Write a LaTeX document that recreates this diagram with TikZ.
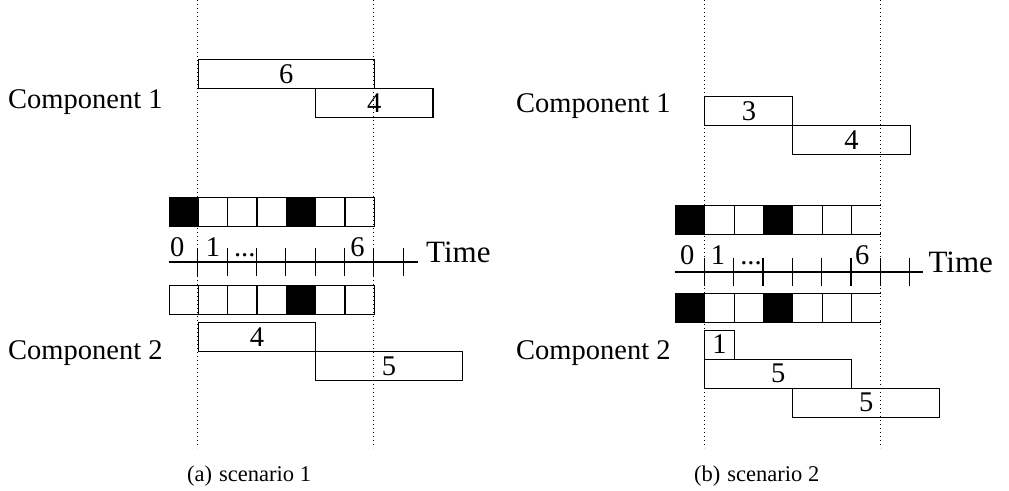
\documentclass[tikz,border=0pt]{standalone}
\usepackage{fontspec}
\setmainfont{Liberation Serif}
\begin{document}
\begin{tikzpicture}[x=1pt,y=-1pt]
\tikzset{
  big/.style={font=\fontsize{28.5}{30}\selectfont, inner sep=0pt},
  axlabel/.style={font=\fontsize{31}{32}\selectfont, inner sep=0pt, anchor=base west},
  cell/.style={draw, line width=1.1pt, minimum width=29.33pt, minimum height=29pt,
               inner sep=0pt, anchor=north west},
  busy/.style={cell, fill=black},
  job/.style={draw, line width=1.1pt, minimum height=29pt, inner sep=0pt,
              anchor=north west, font=\fontsize{28.5}{30}\selectfont},
  guide/.style={line width=0.9pt, dash pattern=on 1.2pt off 2.8pt},
  gap/.style={white, line width=1.3pt},
  axisline/.style={line width=1.1pt},
  caption/.style={font=\fontsize{22.5}{24}\selectfont, inner sep=0pt, anchor=base west},
}
\useasboundingbox (0,0) rectangle (1009,490);

% ---------------- scenario 1 ----------------
\node[big, anchor=base west] (a-c1) at (8,108) {Component 1};
\node[big, anchor=base west] (a-c2) at (8,359) {Component 2};
\begin{scope}[xshift=168.5pt, x=29.33pt]
  % time window guides
  \coordinate (a-g1t) at (1,0);  \coordinate (a-g1b) at (1,448);
  \coordinate (a-g2t) at (7,0);  \coordinate (a-g2b) at (7,448);
  % component 1 jobs
  \node[job, minimum width=6*29.33pt] (a-j1) at (1,59) {6};
  \node[job, minimum width=4*29.33pt] (a-j2) at (5,88) {4};
  % component 2 jobs
  \node[job, minimum width=4*29.33pt] (a-j3) at (1,322) {4};
  \node[job, minimum width=5*29.33pt] (a-j4) at (5,351) {5};
  % slot rows
  \foreach \i in {0,...,6} {
    \ifnum\i=0 \node[busy] (a-t\i) at (\i,197) {};
    \else\ifnum\i=4 \node[busy] (a-t\i) at (\i,197) {};
    \else \node[cell] (a-t\i) at (\i,197) {};\fi\fi
    \ifnum\i=4 \node[busy] (a-b\i) at (\i,285) {};
    \else \node[cell] (a-b\i) at (\i,285) {};\fi
  }
  % slot borders on the guides are left to the dotted lines
  \draw[gap] (7,198) -- (7,226);
  \draw[gap] (1,286) -- (1,313);
  \draw[gap] (7,286) -- (7,313);
  % time axis
  \coordinate (a-ax0) at (0,262);
  \coordinate (a-ax1) at (8.5,262);
  \draw[axisline] (a-ax0) -- (a-ax1);
  \foreach \k in {1,...,8} {
    \coordinate (a-k\k t) at (\k,248);
    \coordinate (a-k\k b) at (\k,276);
    \draw[axisline] (a-k\k t) -- (a-k\k b);
  }
  \node[big, anchor=base] (a-l0) at (0.3,256) {0};
  \node[big, anchor=base] (a-l1) at (1.52,256) {1};
  \node[big, anchor=base] (a-l2) at (2.6,256) {...};
  \node[big, anchor=base] (a-l6) at (6.44,256) {6};
  \node[axlabel] (a-time) at (8.78,262) {Time};
  \draw[guide] (a-g1t) -- (a-g1b);
  \draw[guide] (a-g2t) -- (a-g2b);
\end{scope}
\node[caption] (a-cap) at (187,481) {(a)\hspace{7pt}scenario 1};

% ---------------- scenario 2 ----------------
\node[big, anchor=base west] (b-c1) at (516,112) {Component 1};
\node[big, anchor=base west] (b-c2) at (516,359) {Component 2};
\begin{scope}[xshift=675pt, x=29.33pt]
  \coordinate (b-g1t) at (1,0);  \coordinate (b-g1b) at (1,448);
  \coordinate (b-g2t) at (7,0);  \coordinate (b-g2b) at (7,448);
  % component 1 jobs
  \node[job, minimum width=3*29.33pt] (b-j1) at (1,96) {3};
  \node[job, minimum width=4*29.33pt] (b-j2) at (4,125) {4};
  % component 2 jobs
  \node[job, minimum width=1*29.33pt] (b-j3) at (1,329.5) {1};
  \node[job, minimum width=5*29.33pt] (b-j4) at (1,358.5) {5};
  \node[job, minimum width=5*29.33pt] (b-j5) at (4,387.5) {5};
  % slot rows
  \foreach \i in {0,...,6} {
    \ifnum\i=0 \node[busy] (b-t\i) at (\i,205) {};
    \else\ifnum\i=3 \node[busy] (b-t\i) at (\i,205) {};
    \else \node[cell] (b-t\i) at (\i,205) {};\fi\fi
    \ifnum\i=0 \node[busy] (b-b\i) at (\i,293) {};
    \else\ifnum\i=3 \node[busy] (b-b\i) at (\i,293) {};
    \else \node[cell] (b-b\i) at (\i,293) {};\fi\fi
  }
  \draw[gap] (7,206) -- (7,233);
  \draw[gap] (7,294) -- (7,321);
  % time axis
  \coordinate (b-ax0) at (0,272);
  \coordinate (b-ax1) at (8.46,272);
  \draw[axisline] (b-ax0) -- (b-ax1);
  \foreach \k in {1,...,8} {
    \coordinate (b-k\k t) at (\k,258);
    \coordinate (b-k\k b) at (\k,286);
    \draw[axisline] (b-k\k t) -- (b-k\k b);
  }
  \node[big, anchor=base] (b-l0) at (0.42,264) {0};
  \node[big, anchor=base] (b-l1) at (1.47,264) {1};
  \node[big, anchor=base] (b-l2) at (2.59,264) {...};
  \node[big, anchor=base] (b-l6) at (6.38,264) {6};
  \node[axlabel] (b-time) at (8.64,272) {Time};
  \draw[guide] (b-g1t) -- (b-g1b);
  \draw[guide] (b-g2t) -- (b-g2b);
\end{scope}
\node[caption] (b-cap) at (694,481) {(b)\hspace{7pt}scenario 2};
\end{tikzpicture}
\end{document}
